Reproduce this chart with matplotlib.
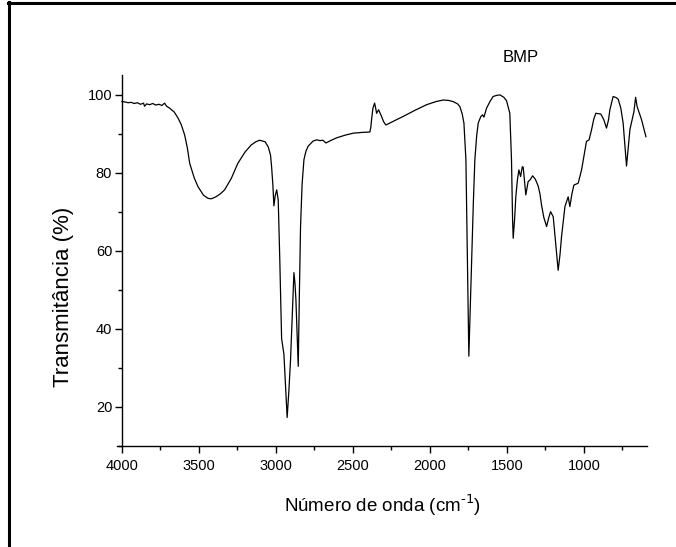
import matplotlib
matplotlib.use("Agg")
import matplotlib.pyplot as plt
from matplotlib.lines import Line2D
from matplotlib.ticker import MultipleLocator

plt.rcParams["font.family"] = ["Liberation Sans", "DejaVu Sans"]

# FTIR spectrum (wavenumber cm-1, transmittance %)
wavenumber = [
    4000, 3980, 3960, 3940, 3920, 3900, 3880, 3860, 3853, 3840, 3820, 3800,
    3780, 3760, 3740, 3723, 3710, 3690, 3660, 3636, 3615, 3593, 3575, 3560,
    3530, 3506, 3470, 3440, 3420, 3390, 3360, 3333, 3290, 3247, 3200, 3160,
    3130, 3106, 3070, 3050, 3035, 3028, 3020, 3013, 3005, 2995, 2985, 2975,
    2963, 2948, 2938, 2927, 2916, 2905, 2895, 2883, 2876, 2870, 2862, 2855,
    2848, 2840, 2830, 2818, 2805, 2790, 2758, 2735, 2714, 2695, 2675, 2640,
    2606, 2550, 2498, 2440, 2390, 2384, 2379, 2370, 2359, 2352, 2346, 2333,
    2314, 2300, 2286, 2230, 2173, 2100, 2021, 1960, 1913, 1880, 1849, 1820,
    1805, 1790, 1779, 1766, 1755, 1747, 1738, 1729, 1718, 1708, 1696, 1686,
    1670, 1658, 1649, 1632, 1610, 1589, 1565, 1545, 1520, 1502, 1481, 1470,
    1463, 1459, 1450, 1442, 1432, 1422, 1411, 1400, 1394, 1377, 1362, 1348,
    1333, 1315, 1297, 1285, 1275, 1260, 1242, 1228, 1216, 1199, 1183, 1167,
    1155, 1145, 1123, 1102, 1091, 1078, 1065, 1037, 1015, 983, 966, 950,
    935, 922, 905, 890, 870, 853, 840, 831, 810, 790, 777, 760,
    745, 723, 701, 675, 664, 654, 625, 597,
]
transmittance = [
    98.2, 98.1, 97.9, 98.0, 97.7, 97.9, 97.5, 97.8, 97.0, 97.6, 97.4, 97.7,
    97.3, 97.5, 97.2, 97.8, 97.0, 96.5, 95.5, 94.0, 92.3, 89.7, 86.3, 82.4,
    78.6, 76.4, 74.2, 73.4, 73.3, 73.8, 74.6, 75.6, 78.5, 82.4, 85.3, 87.1,
    87.9, 88.3, 87.9, 86.6, 84.5, 81.5, 77.0, 71.5, 74.0, 75.6, 73.0, 58.0,
    37.5, 33.5, 26.0, 17.3, 24.0, 32.0, 42.0, 54.4, 51.5, 47.4, 38.0, 30.4,
    48.0, 66.2, 77.0, 83.3, 85.5, 86.8, 88.1, 88.4, 88.2, 88.3, 87.6, 88.3,
    88.9, 89.6, 90.1, 90.3, 90.4, 91.5, 93.5, 96.5, 97.8, 96.5, 95.2, 96.1,
    94.4, 93.0, 92.2, 93.3, 94.4, 95.9, 97.4, 98.2, 98.6, 98.5, 98.2, 97.6,
    96.9, 95.0, 92.7, 83.3, 55.0, 33.0, 45.0, 57.6, 72.0, 83.3, 89.5, 92.7,
    94.3, 94.8, 94.2, 96.5, 98.2, 99.5, 99.8, 99.9, 99.3, 98.4, 95.2, 83.3,
    68.0, 63.2, 68.0, 73.8, 78.0, 80.7, 79.0, 81.5, 81.4, 74.3, 77.7, 78.2,
    79.2, 78.3, 76.6, 74.5, 71.7, 68.5, 66.2, 68.5, 70.0, 68.7, 62.0, 55.0,
    59.0, 63.6, 71.3, 73.8, 71.3, 74.5, 76.8, 77.3, 80.7, 88.0, 88.4, 91.0,
    93.8, 95.2, 95.1, 95.0, 93.5, 91.4, 93.5, 96.1, 99.5, 99.2, 98.8, 96.5,
    92.7, 81.7, 91.0, 95.6, 99.3, 96.9, 93.5, 89.2,
]

fig = plt.figure(figsize=(6.76, 5.47), dpi=100)
ax = fig.add_axes([117 / 676, 101 / 547, 530 / 676, 371 / 547])

ax.plot(wavenumber, transmittance, color="black", lw=0.9)

ax.set_xlim(4032, 590)
ax.set_ylim(10, 105)
ax.spines["top"].set_visible(False)
ax.spines["right"].set_visible(False)
ax.spines["left"].set_position(("data", 4000))
for s in ("left", "bottom"):
    ax.spines[s].set_linewidth(1.0)

ax.xaxis.set_major_locator(MultipleLocator(500))
ax.xaxis.set_minor_locator(MultipleLocator(250))
ax.yaxis.set_major_locator(MultipleLocator(20))
ax.yaxis.set_minor_locator(MultipleLocator(10))
ax.set_yticks([20, 40, 60, 80, 100])
ax.tick_params(which="major", direction="out", length=5, width=1, labelsize=10.5)
ax.tick_params(which="minor", direction="out", length=3, width=1)
ax.tick_params(axis="x", pad=4)
ax.tick_params(axis="y", pad=2)

fig.text(383 / 676, 1 - 505 / 547, r"Número de onda (cm$^{\text{-1}}$)",
         ha="center", va="center", fontsize=13.5)
fig.text(63 / 676, 1 - 297 / 547, "Transmitância (%)", rotation=90,
         ha="center", va="center", fontsize=16)
fig.text(521 / 676, 1 - 58 / 547, "BMP", ha="center", va="center", fontsize=12)

# frame lines along the left and top edges of the picture
fig.add_artist(Line2D([9 / 676, 9 / 676], [0, 1 - 2 / 547], transform=fig.transFigure,
                      color="black", lw=2.2))
fig.add_artist(Line2D([8 / 676, 1], [1 - 2.5 / 547, 1 - 2.5 / 547], transform=fig.transFigure,
                      color="black", lw=2.2))

fig.savefig("out.png", dpi=100)
